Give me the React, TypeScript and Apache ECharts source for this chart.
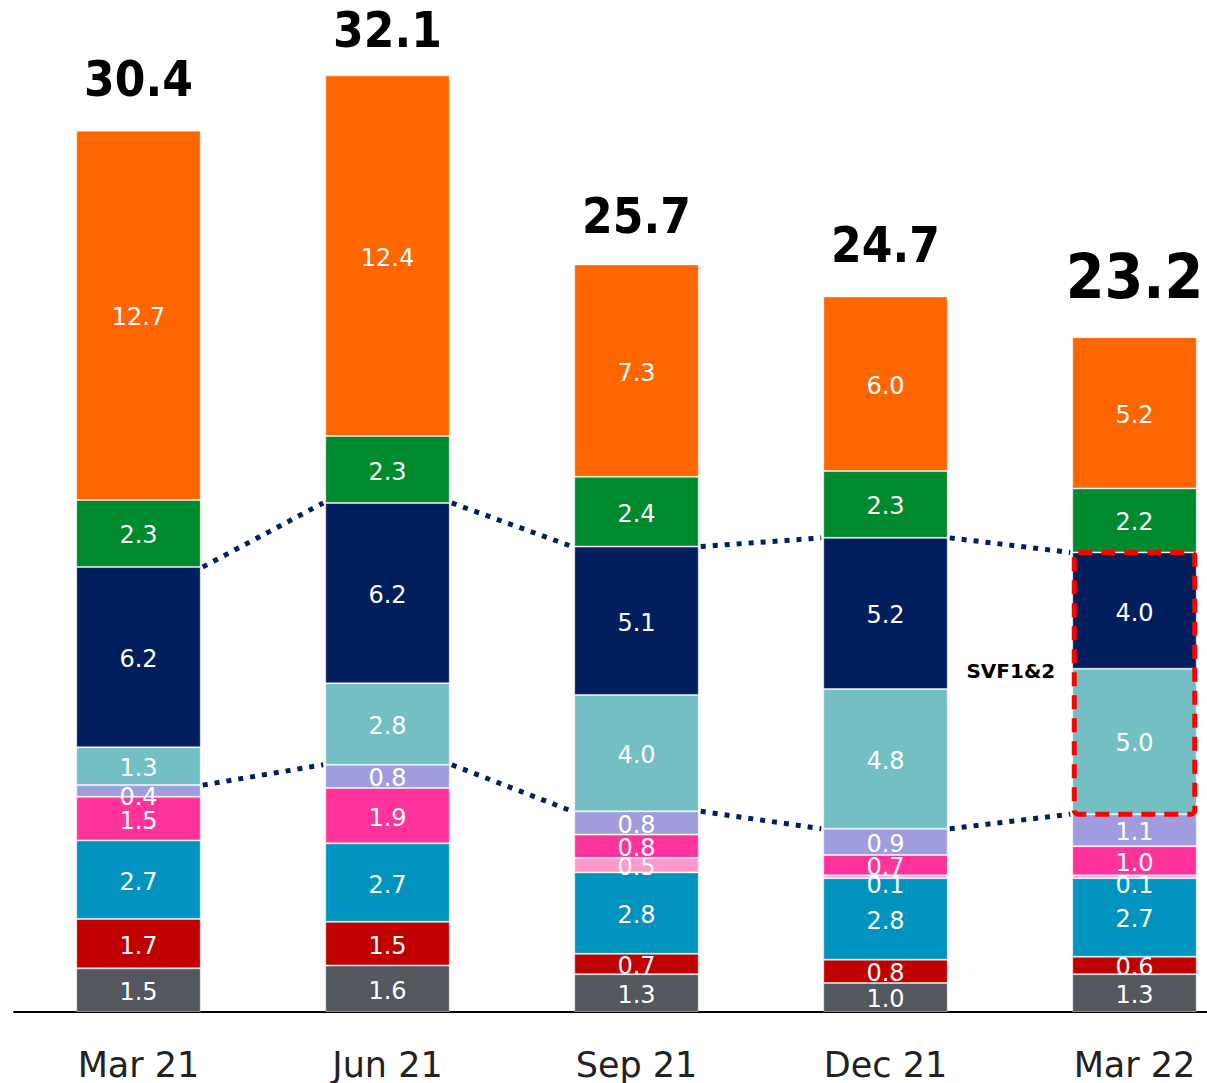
import React, { useEffect, useRef } from "react";
import * as echarts from "echarts";

// ---- data ----
const categories = ["Mar 21", "Jun 21", "Sep 21", "Dec 21", "Mar 22"];
const totals = [30.4, 32.1, 25.7, 24.7, 23.2];
const grayValues = [1.5, 1.6, 1.3, 1.0, 1.3];
const redValues = [1.7, 1.5, 0.7, 0.8, 0.6];
const blueValues = [2.7, 2.7, 2.8, 2.8, 2.7];
const lightPinkValues: (number | null)[] = [null, null, 0.5, 0.1, 0.1];
const pinkValues = [1.5, 1.9, 0.8, 0.7, 1.0];
const lavenderValues = [0.4, 0.8, 0.8, 0.9, 1.1];
const tealValues = [1.3, 2.8, 4.0, 4.8, 5.0];
const navyValues = [6.2, 6.2, 5.1, 5.2, 4.0];
const greenValues = [2.3, 2.3, 2.4, 2.3, 2.2];
const orangeValues = [12.7, 12.4, 7.3, 6.0, 5.2];
const highlightText = "SVF1&2";

// ---- series config ----
const segments = [
  { name: "Other", values: grayValues, color: "#53585e" },
  { name: "Red", values: redValues, color: "#c00000" },
  { name: "Blue", values: blueValues, color: "#0093c0" },
  { name: "LightPink", values: lightPinkValues, color: "#ff99cc" },
  { name: "Pink", values: pinkValues, color: "#ff3399" },
  { name: "Lavender", values: lavenderValues, color: "#a09ddf" },
  { name: "SVF2", values: tealValues, color: "#73bfc4" },
  { name: "SVF1", values: navyValues, color: "#001f5c" },
  { name: "Green", values: greenValues, color: "#008a2e" },
  { name: "Orange", values: orangeValues, color: "#ff6600" },
];

const cumulative = (upto: number) =>
  categories.map((_, i) =>
    segments.slice(0, upto).reduce((s, seg) => s + ((seg.values[i] as number) ?? 0), 0)
  );
const tealIdx = segments.findIndex((s) => s.name === "SVF2");
const navyIdx = segments.findIndex((s) => s.name === "SVF1");
const tealBottom = cumulative(tealIdx);
const tealTop = cumulative(tealIdx + 1);
const navyTop = cumulative(navyIdx + 1);

const labelShift = (v: number) => (v <= 0.15 ? 8 : v <= 0.45 ? 6 : 2);

const FONT = '"DejaVu Sans", Verdana, sans-serif';
const BOLD_FONT = '"DejaVu Sans Condensed", "DejaVu Sans", sans-serif';

export default function App() {
  const ref = useRef<HTMLDivElement>(null);
  useEffect(() => {
    if (!ref.current) return;
    const chart = echarts.init(ref.current, null, { renderer: "svg" });

    const barSeries = segments.map((seg) => ({
      name: seg.name,
      type: "bar",
      stack: "total",
      barWidth: "50%",
      itemStyle: { color: seg.color, borderColor: "rgba(255,255,255,0.45)", borderWidth: 1 },
      label: {
        show: true,
        position: "inside",
        color: "#ffffff",
        fontSize: 24,
        fontFamily: FONT,
        formatter: (p: any) => (p.value == null ? "" : Number(p.value).toFixed(1)),
      },
      data: seg.values.map((v) =>
        v == null ? "-" : { value: v, label: { offset: [0, labelShift(v)] } }
      ),
    }));

    const gapData = categories.slice(0, -1).map((_, i) => [
      i,
      navyTop[i],
      navyTop[i + 1],
      tealBottom[i],
      tealBottom[i + 1],
    ]);
    const last = categories.length - 1;

    const option: any = {
      animation: false,
      grid: {
        left: 14,
        width: 1245,
        top: 23,
        bottom: 71,
        containLabel: false,
        outerBoundsMode: "none",
      },
      xAxis: {
        type: "category",
        data: categories,
        axisLine: { show: true, lineStyle: { color: "#000", width: 2 } },
        axisTick: { show: false },
        axisLabel: {
          color: "#222",
          fontSize: 35,
          fontFamily: FONT,
          margin: 53,
          verticalAlign: "middle",
        },
      },
      yAxis: { type: "value", min: 0, max: 34, show: false, splitLine: { show: false } },
      series: [
        ...barSeries,
        {
          type: "custom",
          name: "connectors",
          z: 5,
          data: gapData,
          encode: { x: 0, y: [1, 2, 3, 4] },
          renderItem: (params: any, api: any) => {
            const i = api.value(0);
            const half = api.size([1, 0])[0] * 0.25;
            const mk = (a: number, b: number) => {
              const p1 = api.coord([i, a]);
              const p2 = api.coord([i + 1, b]);
              return {
                type: "line",
                shape: { x1: p1[0] + half + 2, y1: p1[1], x2: p2[0] - half - 2, y2: p2[1] },
                style: { stroke: "#002060", lineWidth: 5, lineDash: [5, 7], fill: null },
              };
            };
            return {
              type: "group",
              children: [mk(api.value(1), api.value(2)), mk(api.value(3), api.value(4))],
            };
          },
        },
        {
          type: "custom",
          name: "highlight",
          z: 6,
          data: [[last, tealBottom[last], navyTop[last], tealTop[last]]],
          encode: { x: 0, y: [1, 2, 3] },
          renderItem: (params: any, api: any) => {
            const i = api.value(0);
            const half = api.size([1, 0])[0] * 0.25;
            const pb = api.coord([i, api.value(1)]);
            const pt = api.coord([i, api.value(2)]);
            const pm = api.coord([i, api.value(3)]);
            return {
              type: "group",
              children: [
                {
                  type: "rect",
                  shape: { x: pb[0] - half + 2, y: pt[1], width: half * 2 - 4, height: pb[1] - pt[1], r: 4 },
                  style: { fill: "none", stroke: "#ff0000", lineWidth: 5, lineDash: [14, 9] },
                },
                {
                  type: "text",
                  style: {
                    text: highlightText,
                    x: pb[0] - half - 17,
                    y: pm[1] + 2,
                    fill: "#000",
                    font: 'bold 20px "DejaVu Sans", sans-serif',
                    align: "right",
                    textAlign: "right",
                    verticalAlign: "middle",
                    textVerticalAlign: "middle",
                  },
                },
              ],
            };
          },
        },
        {
          type: "custom",
          name: "totals",
          z: 7,
          data: totals.map((t, i) => [i, t]),
          encode: { x: 0, y: 1 },
          renderItem: (params: any, api: any) => {
            const i = api.value(0);
            const p = api.coord([i, api.value(1)]);
            const big = i === last;
            return {
              type: "text",
              style: {
                text: totals[i].toFixed(1),
                x: p[0],
                y: p[1] - (big ? 61 : 48),
                fill: "#000",
                font: `bold ${big ? 62 : 49}px ${BOLD_FONT}`,
                align: "center",
                textAlign: "center",
                verticalAlign: "middle",
                textVerticalAlign: "middle",
              },
            };
          },
        },
      ],
    };
    chart.setOption(option);
    return () => chart.dispose();
  }, []);

  return (
    <div
      ref={ref}
      style={{ position: "absolute", left: 0, top: 0, width: 1207, height: 1083, background: "#fff" }}
    />
  );
}
